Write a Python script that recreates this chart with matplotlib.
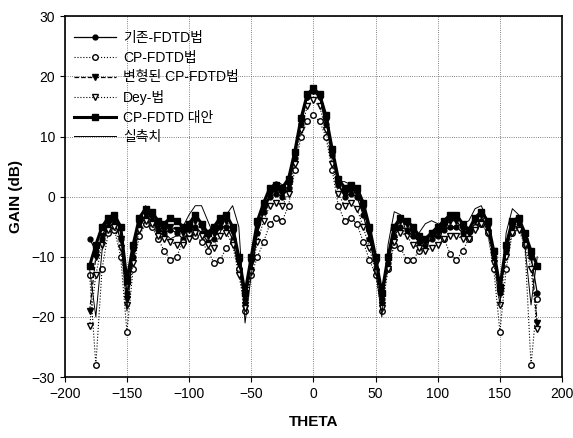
import numpy as np
import matplotlib.pyplot as plt

plt.rcParams['font.family'] = ['Liberation Sans', 'Noto Sans CJK KR']

theta = np.arange(-180, 181, 5)

# 기존-FDTD법
gain_a = [-7, -9, -7, -5, -4.5, -7, -16, -10, -5, -3.5, -4, -5.5, -6, -5.5, -6, -7, -6, -5,
          -6, -7.5, -7, -5, -5, -7, -12, -17, -12, -6, -2.5, 0, 0.5, 0, 1.5, 6.5, 12, 16.5,
          17.5,
          16.5, 12, 7, 2, 0, 0.5, 0, -3, -7, -12, -17, -11, -6.5, -5, -5.5, -6.5, -7.5, -8,
          -7, -6.5, -5.5, -5, -5, -6, -7, -5, -4, -5.5, -10, -16, -9, -5, -5, -7, -10, -16]
# CP-FDTD법
gain_b = [-13, -28, -12, -6, -5.5, -10, -22.5, -12, -6.5, -4.5, -5, -7, -9, -10.5, -10, -7.5,
          -6, -6.5, -7.5, -9, -11, -10.5, -8.5, -7.5, -12, -19, -13, -10, -7.5, -4.5, -3.5,
          -4, -1.5, 4.5, 10, 12.5,
          13.5,
          12.5, 10, 4.5, -1.5, -4, -3.5, -4.5, -7.5, -10.5, -13, -19, -12, -8, -8.5, -10.5,
          -10.5, -9, -7.5, -6.5, -6, -7, -9.5, -10.5, -9, -7, -5, -4.5, -6, -12, -22.5, -12,
          -6, -5, -8, -28, -17]
# 변형된 CP-FDTD법
gain_c = [-19, -10, -6.5, -4.5, -4, -7, -17, -9, -4.5, -3, -3.5, -5, -5.5, -5, -5.5, -6, -5.5,
          -4, -5, -6.5, -6, -4.5, -4, -6, -11, -18, -11, -5, -2, 0.5, 1, 0.5, 2, 7, 12.5, 16.5,
          17.5,
          16.5, 12.5, 7, 2, 0.5, 1, 0.5, -2, -6, -11, -18, -10, -5.5, -4, -4.5, -6, -7, -7.5,
          -6.5, -6, -5, -4, -4, -5.5, -6, -4, -3, -5, -9, -16, -9, -5, -4.5, -6.5, -10, -21]
# Dey-법
gain_d = [-21.5, -13, -8, -5.5, -5, -8.5, -18, -11, -5.5, -4, -4.5, -6.5, -7, -7.5, -8, -8, -7,
          -6, -6.5, -8, -8.5, -6.5, -6, -8, -13, -18.5, -12.5, -7.5, -4, -1.5, -1, -1.5, 0.5,
          5.5, 11, 15,
          16,
          15, 11, 5.5, 0.5, -1.5, -1, -2, -5, -8.5, -12.5, -18.5, -12, -7.5, -6, -6.5, -8,
          -8.5, -9, -8.5, -8, -7, -6.5, -6.5, -7, -7, -5.5, -4.5, -6, -11, -18, -10, -6, -5.5,
          -8, -12, -22]
# CP-FDTD 대안
gain_e = [-11.5, -8, -5, -3.5, -3, -5, -14, -8, -3.5, -2, -2.5, -4, -4.5, -3.5, -4, -5, -4.5,
          -3, -4.5, -6, -5, -3.5, -3, -5, -10, -16, -10, -4, -1, 1.5, 2, 1.5, 3, 7.5, 13, 17,
          18,
          17, 13.5, 8, 3, 1.5, 2, 1.5, -1, -5, -10, -16, -10, -5, -3.5, -4, -5, -6.5, -7, -6,
          -5, -4, -3, -3, -4.5, -5.5, -3.5, -2.5, -4, -9, -15, -8, -4, -3.5, -6, -9, -11.5]
# 실측치
gain_f = [-12, -20, -9, -4, -3, -6, -19, -9, -3.5, -1.5, -3, -5, -6, -7, -6.5, -5, -3, -1.5,
          -1.5, -4, -6.5, -6, -3, -1.5, -5, -21, -13, -6, -1.5, 1.5, 2.5, 2, 2, 7, 13, 17,
          17.5,
          16.5, 12.5, 7, 2.5, 2.5, 2, 1, -2, -6, -12, -20, -8, -2.5, -3, -6, -7, -6, -4.5,
          -4, -4.5, -5, -5.5, -5, -4.5, -4, -2, -1.5, -4, -10, -18, -6, -2, -3, -8, -18, -10]

labels = ['기존-FDTD법', 'CP-FDTD법', '변형된 CP-FDTD법', 'Dey-법', 'CP-FDTD 대안', '실측치']

fig = plt.figure(figsize=(5.73, 4.38), dpi=100)
ax = fig.add_axes([0.113, 0.139, 0.868, 0.824])

ax.plot(theta, gain_a, color='black', lw=0.9, marker='o', ms=3.5, label=labels[0])
ax.plot(theta, gain_b, color='black', lw=0.8, ls=':', marker='o', ms=4,
        mfc='white', mew=1.0, label=labels[1])
ax.plot(theta, gain_c, color='black', lw=0.9, ls='--', marker='v', ms=4, label=labels[2])
ax.plot(theta, gain_d, color='black', lw=0.8, ls=':', marker='v', ms=4,
        mfc='white', mew=1.0, label=labels[3])
ax.plot(theta, gain_e, color='black', lw=2.2, marker='s', ms=5, label=labels[4])
ax.plot(theta, gain_f, color='black', lw=0.7, label=labels[5])

ax.set_xlim(-200, 200)
ax.set_ylim(-30, 30)
ax.set_xticks(np.arange(-200, 201, 50))
ax.set_yticks(np.arange(-30, 31, 10))
ax.grid(True, color='0.35', ls=':', lw=0.6)
ax.tick_params(direction='out', labelsize=10)
for s in ax.spines.values():
    s.set_linewidth(1.2)

ax.set_xlabel('THETA', fontsize=11, fontweight='bold', labelpad=10)
ax.set_ylabel('GAIN (dB)', fontsize=11, fontweight='bold', labelpad=6)

ax.legend(loc='upper left', bbox_to_anchor=(0.0, 0.985), frameon=False, fontsize=10,
          handlelength=3.0, handletextpad=0.5, labelspacing=0.4, borderaxespad=0.3)

fig.savefig('out.png', dpi=100)
